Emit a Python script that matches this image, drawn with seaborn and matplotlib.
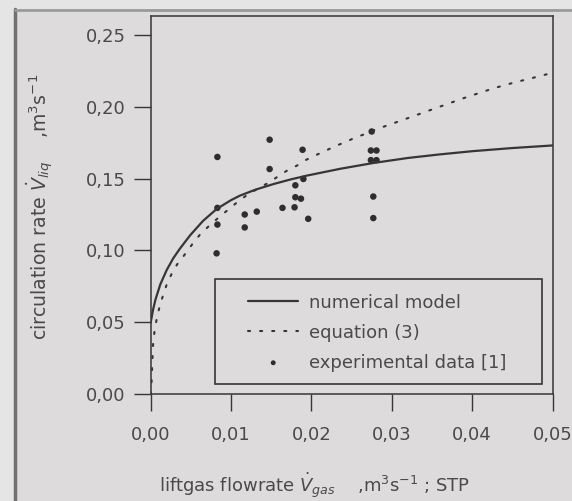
import seaborn as sns
import matplotlib
import matplotlib.pyplot as plt
from matplotlib.lines import Line2D
from matplotlib.patches import Rectangle

matplotlib.use('Agg')

# numerical model (solid curve)
model_x = [0.0, 0.0003, 0.0006, 0.0012, 0.002, 0.0028, 0.0036, 0.0049, 0.0065, 0.0082, 0.0100,
           0.0111, 0.0130, 0.0153, 0.0175, 0.0194, 0.0236, 0.0277, 0.0320, 0.0360, 0.0400,
           0.0450, 0.0500]
model_y = [0.050, 0.059, 0.066, 0.0765, 0.0865, 0.0945, 0.101, 0.1105, 0.1205, 0.1288, 0.1350,
           0.1381, 0.1422, 0.1462, 0.1495, 0.1520, 0.1568, 0.1608, 0.1643, 0.1668, 0.1690,
           0.1712, 0.1730]

# equation (3) (dotted curve)
eq_x = [0.0, 0.0001, 0.0002, 0.0003, 0.0005, 0.0008, 0.0012, 0.0020, 0.0026, 0.0033, 0.0042,
        0.0051, 0.0061, 0.0073, 0.0085, 0.0097, 0.0108, 0.0120, 0.0135, 0.0147, 0.0158,
        0.0169, 0.0182, 0.0193, 0.0206, 0.0218, 0.0230, 0.0242, 0.0254, 0.0267, 0.0275,
        0.0310, 0.0350, 0.0390, 0.0427, 0.0452, 0.0477, 0.0500]
eq_y = [0.0, 0.008, 0.022, 0.035, 0.045, 0.054, 0.063, 0.0765, 0.0837, 0.0904, 0.0969,
        0.1038, 0.1108, 0.1173, 0.1231, 0.1286, 0.1337, 0.1386, 0.1435, 0.1472, 0.1513,
        0.1553, 0.1590, 0.1629, 0.1664, 0.1694, 0.1727, 0.1752, 0.1784, 0.1810, 0.1831,
        0.1900, 0.1980, 0.2060, 0.2128, 0.2167, 0.2202, 0.2235]

# experimental data [1]
exp_x = [0.0083, 0.0083, 0.0083, 0.0082, 0.0148, 0.0148, 0.0117, 0.0117, 0.0132, 0.0164,
         0.0179, 0.0180, 0.0180, 0.0187, 0.0189, 0.0190, 0.0196, 0.0275, 0.0274, 0.0281,
         0.0274, 0.0281, 0.0277, 0.0277]
exp_y = [0.165, 0.1296, 0.118, 0.098, 0.177, 0.1566, 0.125, 0.116, 0.127, 0.1296,
         0.130, 0.1453, 0.137, 0.136, 0.170, 0.1497, 0.122, 0.1827, 0.1695, 0.1695,
         0.1628, 0.1628, 0.1375, 0.1225]

x_ticks = [0.0, 0.01, 0.02, 0.03, 0.04, 0.05]
x_labels = ["0,00", "0,01", "0,02", "0,03", "0,04", "0,05"]
y_ticks = [0.0, 0.05, 0.10, 0.15, 0.20, 0.25]
y_labels = ["0,00", "0,05", "0,10", "0,15", "0,20", "0,25"]

BG = "#dddbdc"
INK = "#363636"
TXT = "#4a4a4a"

sns.set_style("ticks")
plt.rcParams['font.family'] = ['DejaVu Sans']
plt.rcParams['mathtext.fontset'] = 'dejavusans'

W, H = 572, 501
fig = plt.figure(figsize=(W / 100, H / 100), dpi=100, facecolor=BG)

# scan-like border: lighter margin with a dark shadow edge
fig.add_artist(Rectangle((0, 0), 14 / W, 1, transform=fig.transFigure, facecolor="#e6e5e5", edgecolor="none"))
fig.add_artist(Rectangle((0, 1 - 9 / H), 1, 9 / H, transform=fig.transFigure, facecolor="#e6e5e5", edgecolor="none"))
fig.add_artist(Line2D([15.5 / W, 15.5 / W], [0, 1 - 9 / H], transform=fig.transFigure, color="#707070", lw=2.5))
fig.add_artist(Line2D([15.5 / W, 1], [1 - 10 / H, 1 - 10 / H], transform=fig.transFigure, color="#9a9a9a", lw=2))

ax = fig.add_axes([150.7 / W, 1 - 394.3 / H, (552.5 - 150.7) / W, (394.3 - 16) / H])
ax.set_facecolor(BG)

sns.lineplot(x=model_x, y=model_y, ax=ax, color=INK, lw=1.6, estimator=None, sort=False,
             label="numerical model")
sns.lineplot(x=eq_x, y=eq_y, ax=ax, color=INK, lw=1.5, estimator=None, sort=False,
             linestyle=(0, (1, 4.8)), dash_capstyle="round", label="equation (3)")
sns.scatterplot(x=exp_x, y=exp_y, ax=ax, color="#2e2e2e", s=22, edgecolor="none",
                label="experimental data [1]")

ax.set_xlim(0, 0.05)
ax.set_ylim(0, 0.263)
ax.set_xticks(x_ticks)
ax.set_xticklabels(x_labels)
ax.set_yticks(y_ticks)
ax.set_yticklabels(y_labels)
ax.set_xlabel("")
ax.set_ylabel("")

ax.tick_params(direction="out", length=12, width=1.0, color=INK, labelcolor=TXT, labelsize=13)
ax.tick_params(axis="x", pad=11)
ax.tick_params(axis="y", pad=6)
for sp in ax.spines.values():
    sp.set_color(INK)
    sp.set_linewidth(1.1)

# legend box drawn separately, it is wider than its entries
ax.add_patch(Rectangle((0.160, 0.0272), 0.813, 0.2776, transform=ax.transAxes,
                       facecolor=BG, edgecolor=INK, lw=1.2, zorder=4))
leg = ax.legend(loc="upper left", bbox_to_anchor=(0.242, 0.266), borderaxespad=0,
                borderpad=0, fontsize=13, frameon=False, handlelength=2.8,
                handletextpad=0.58, labelspacing=0.66, markerscale=0.75)
leg.set_zorder(5)
for t in leg.get_texts():
    t.set_color(TXT)

fig.text(40 / W, 1 - 207 / H, r"circulation rate $\dot{V}_{liq}$    ,m$^{3}$s$^{-1}$",
         rotation=90, ha="center", va="center", fontsize=13.6, color=TXT)
fig.text(315 / W, 1 - 485 / H, r"liftgas flowrate $\dot{V}_{gas}$    ,m$^{3}$s$^{-1}$ ; STP",
         ha="center", va="center", fontsize=13, color=TXT)

fig.savefig("out.png", dpi=100, facecolor=BG)
